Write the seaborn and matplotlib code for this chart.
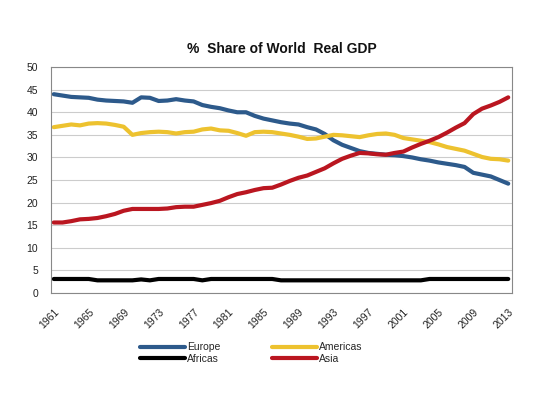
import matplotlib
matplotlib.use("Agg")
import matplotlib.pyplot as plt
import seaborn as sns
import pandas as pd

years = list(range(1961, 2014))
europe = [44.0, 43.7, 43.4, 43.3, 43.2, 42.8, 42.6, 42.5, 42.4, 42.1,
          43.3, 43.2, 42.5, 42.6, 42.9, 42.6, 42.4, 41.6, 41.2, 40.9,
          40.4, 40.0, 40.0, 39.2, 38.6, 38.2, 37.8, 37.5, 37.3, 36.7,
          36.2, 35.2, 33.8, 32.8, 32.1, 31.4, 31.0, 30.8, 30.6, 30.5,
          30.3, 30.0, 29.6, 29.3, 28.9, 28.6, 28.3, 27.9, 26.6, 26.2,
          25.8, 25.0, 24.2]
americas = [36.7, 37.0, 37.3, 37.1, 37.5, 37.6, 37.5, 37.2, 36.8, 35.0,
            35.4, 35.6, 35.7, 35.6, 35.3, 35.6, 35.7, 36.2, 36.4, 36.0,
            35.9, 35.4, 34.8, 35.6, 35.7, 35.6, 35.3, 35.0, 34.6, 34.1,
            34.2, 34.6, 35.0, 34.9, 34.7, 34.5, 34.9, 35.2, 35.3, 35.0,
            34.3, 34.0, 33.7, 33.4, 32.9, 32.3, 31.9, 31.5, 30.8, 30.1,
            29.7, 29.6, 29.3]
africas = [3.1, 3.1, 3.1, 3.1, 3.1, 2.8, 2.8, 2.8, 2.8, 2.8,
           3.0, 2.8, 3.1, 3.1, 3.1, 3.1, 3.1, 2.8, 3.1, 3.1,
           3.1, 3.1, 3.1, 3.1, 3.1, 3.1, 2.8, 2.8, 2.8, 2.8,
           2.8, 2.8, 2.8, 2.8, 2.8, 2.8, 2.8, 2.8, 2.8, 2.8,
           2.8, 2.8, 2.8, 3.1, 3.1, 3.1, 3.1, 3.1, 3.1, 3.1,
           3.1, 3.1, 3.1]
asia = [15.6, 15.6, 15.9, 16.3, 16.4, 16.6, 17.0, 17.5, 18.2, 18.6,
        18.6, 18.6, 18.6, 18.7, 19.0, 19.1, 19.1, 19.5, 19.9, 20.4,
        21.2, 21.9, 22.3, 22.8, 23.2, 23.3, 24.0, 24.8, 25.5, 26.0,
        26.8, 27.6, 28.7, 29.7, 30.4, 31.0, 30.9, 30.7, 30.6, 31.0,
        31.3, 32.2, 33.0, 33.7, 34.5, 35.5, 36.6, 37.6, 39.6, 40.8,
        41.5, 42.3, 43.3]
regions = ["Europe", "Americas", "Africas", "Asia"]
tick_years = list(range(1961, 2014, 4))
title = "%  Share of World  Real GDP"

colors = {"Europe": "#2D5A8B", "Americas": "#EDC22F",
          "Africas": "#000000", "Asia": "#BA1620"}

df = pd.DataFrame({
    "Year": years * 4,
    "Share": europe + americas + africas + asia,
    "Region": sum([[r] * len(years) for r in regions], []),
})

sns.set_theme(style="white")
plt.rcParams["font.family"] = ["Liberation Sans", "DejaVu Sans"]

fig = plt.figure(figsize=(5.52, 3.97), dpi=100)
ax = fig.add_axes([0.092, 0.262, 0.836, 0.569])
sns.lineplot(data=df, x="Year", y="Share", hue="Region", hue_order=regions,
             palette=colors, linewidth=3.0, ax=ax, legend=False)

ax.set_xlim(1960.66, 2013.46)
ax.set_ylim(0, 50)
ax.set_yticks(range(0, 51, 5))
ax.set_xticks(tick_years)
ax.set_xticklabels([str(y) for y in tick_years], rotation=45, ha="right",
                   rotation_mode="anchor", fontsize=7.5, color="#222222")
ax.tick_params(axis="y", labelsize=7.5, labelcolor="#222222", pad=3)
ax.tick_params(axis="x", pad=4)
ax.set_xlabel("")
ax.set_ylabel("")
ax.grid(axis="y", color="#cccccc", linewidth=0.8)
ax.set_axisbelow(True)
for s in ax.spines.values():
    s.set_color("#888888")
    s.set_linewidth(0.8)

ax.set_title(title, fontsize=10, fontweight="bold", pad=10, color="#111111")

handles = [plt.Line2D([], [], color=colors[r], linewidth=3.0) for r in regions]
order = [0, 2, 1, 3]
fig.legend([handles[i] for i in order], [regions[i] for i in order],
           loc="upper center", bbox_to_anchor=(0.455, 1 - 333 / 397), ncol=2,
           frameon=False, fontsize=7.5, handlelength=4.3, handletextpad=0.2,
           columnspacing=5.0, labelspacing=0.15,
           bbox_transform=fig.transFigure)

fig.savefig("out.png", dpi=100)
